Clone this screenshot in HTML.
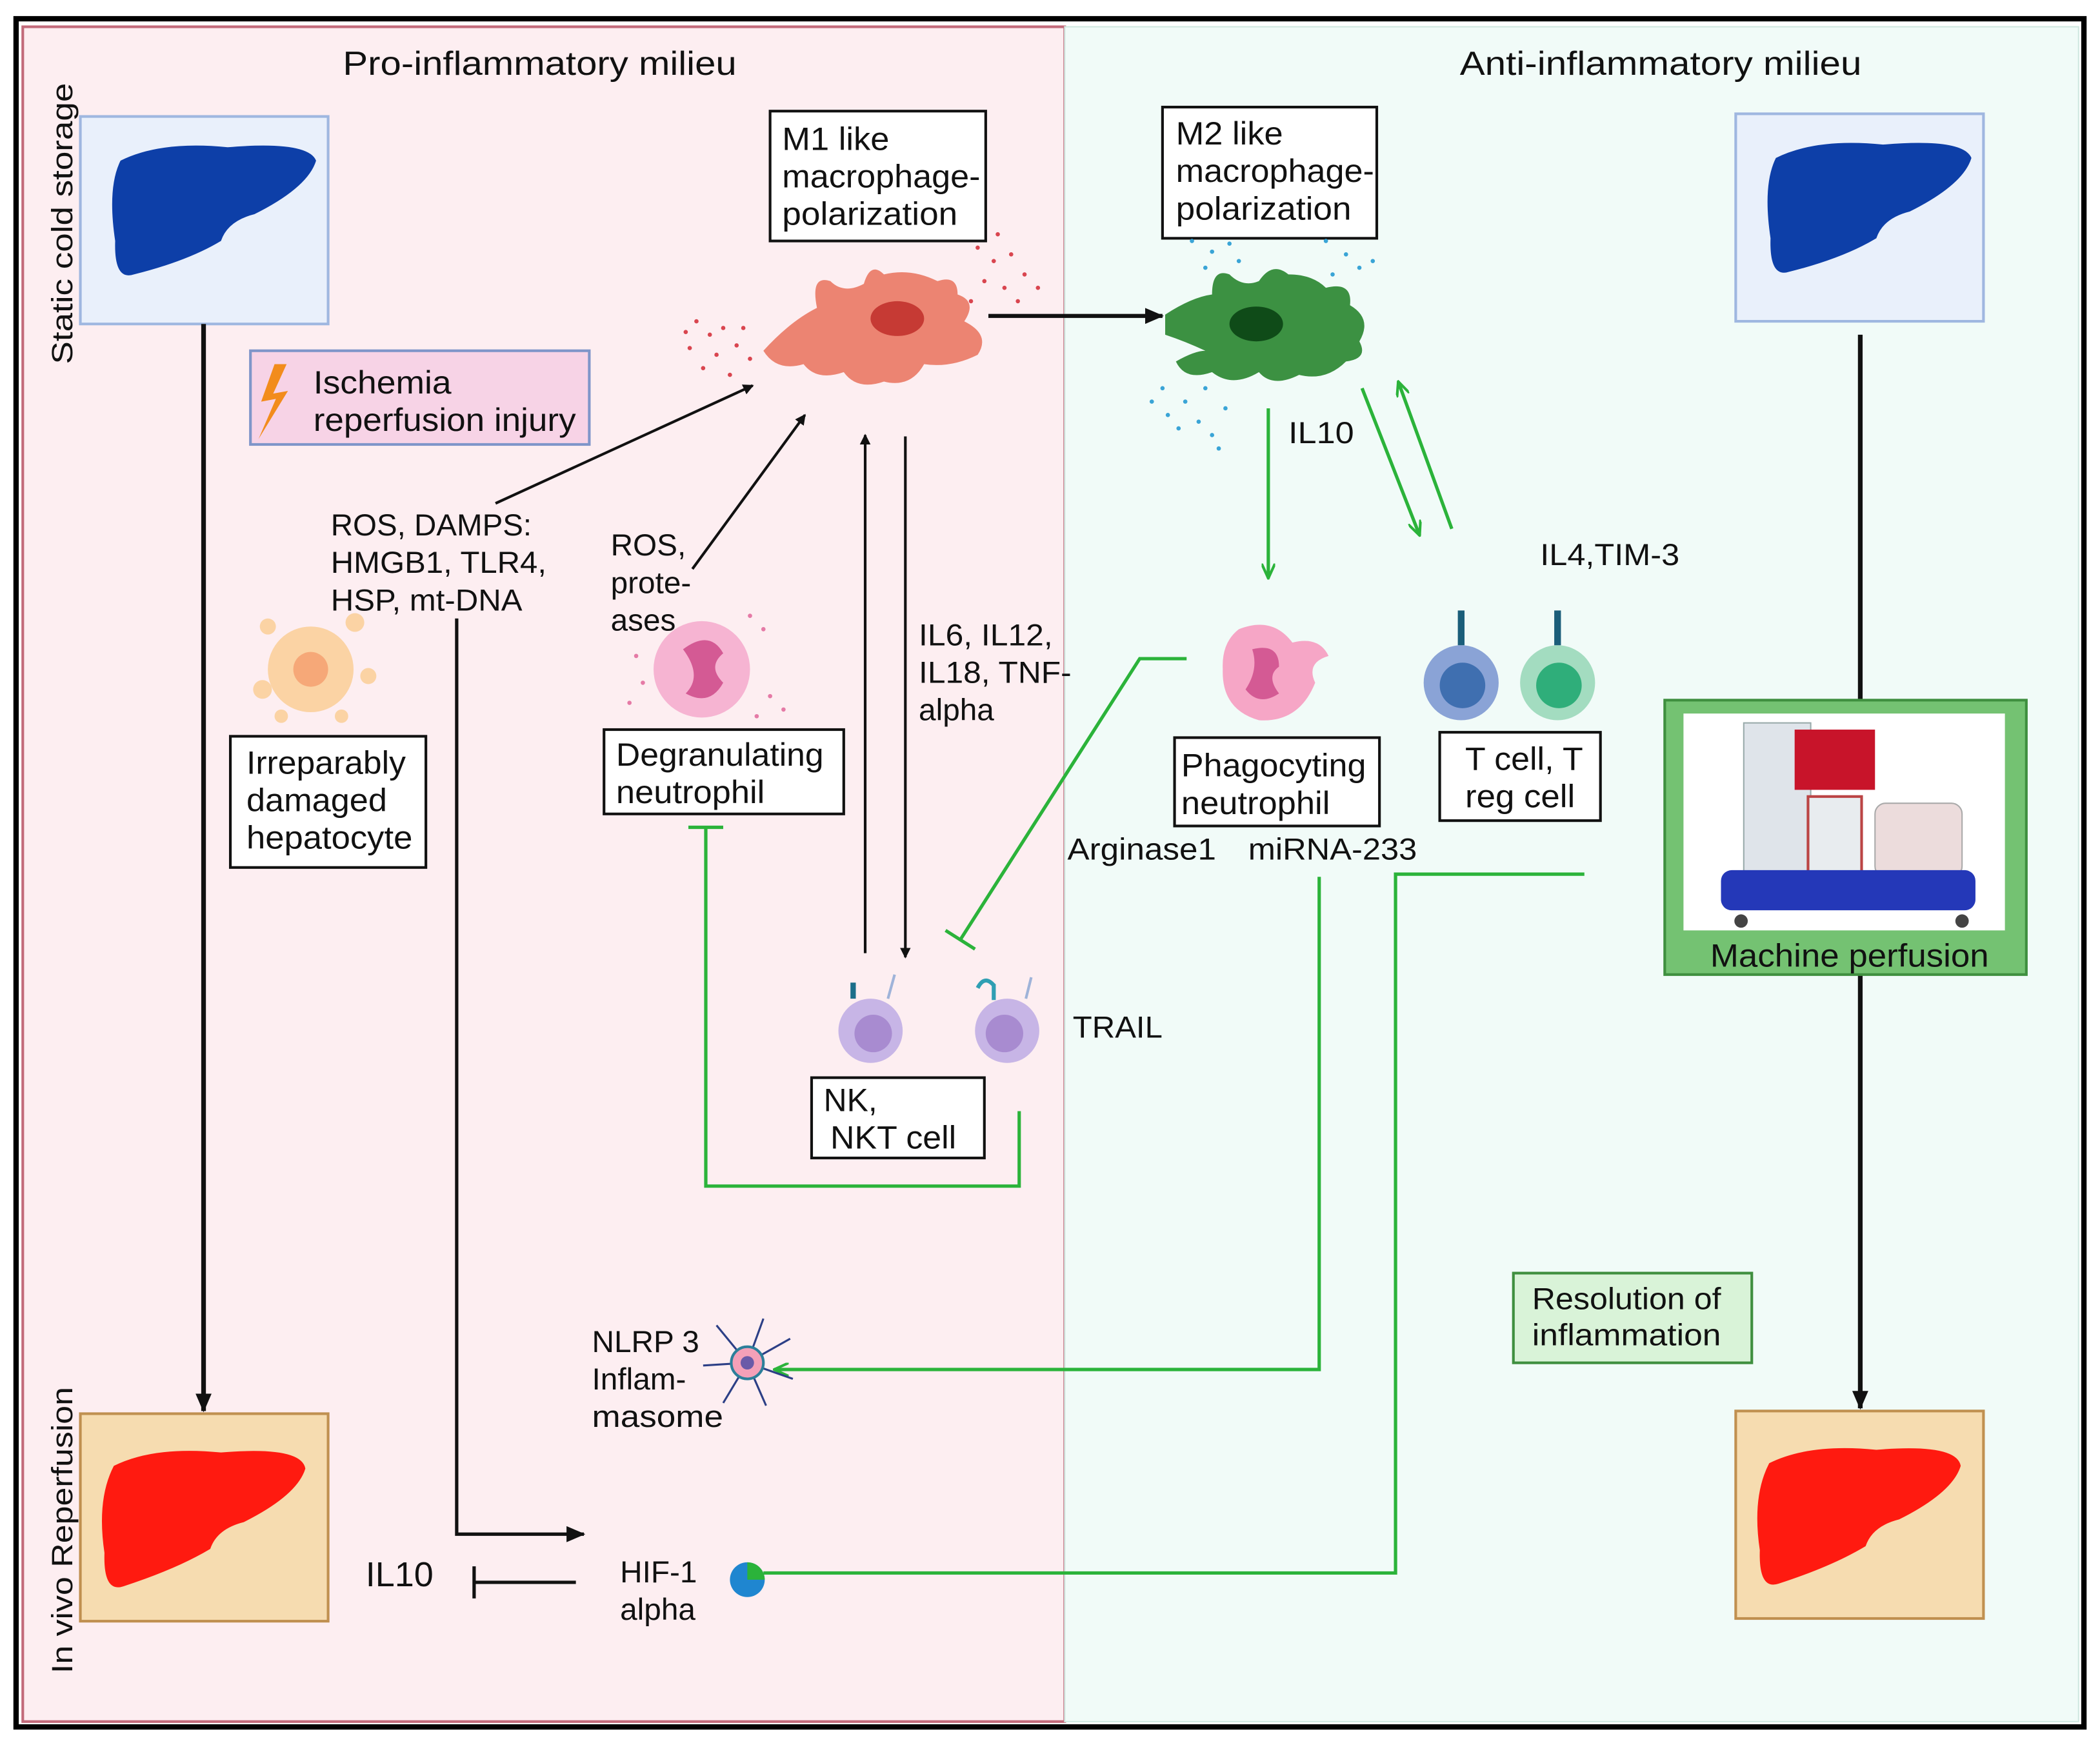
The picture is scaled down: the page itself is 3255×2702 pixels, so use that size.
<!DOCTYPE html>
<html><head><meta charset="utf-8"><style>
html,body{margin:0;padding:0;background:#fff}
svg{display:block}
text{font-family:"Liberation Sans",sans-serif;fill:#111}
</style></head><body>
<svg width="3255" height="2702" viewBox="0 0 1568 1302" preserveAspectRatio="none" xmlns="http://www.w3.org/2000/svg">
<defs>
<marker id="ab" markerWidth="8" markerHeight="8" refX="7" refY="4" orient="auto" markerUnits="userSpaceOnUse"><path d="M0,0 L8,4 L0,8 z" fill="#111"/></marker>
<marker id="ab2" markerWidth="14" markerHeight="12" refX="13" refY="6" orient="auto" markerUnits="userSpaceOnUse"><path d="M0,0 L14,6 L0,12 z" fill="#111"/></marker>
<marker id="ag" markerWidth="12" markerHeight="10" refX="11" refY="5" orient="auto" markerUnits="userSpaceOnUse"><path d="M0,0 L11,5 L0,10" fill="none" stroke="#2bb33a" stroke-width="2"/></marker>
</defs>
<rect x="0" y="0" width="1568" height="1302" fill="#fff"/>
<rect x="12" y="14" width="1544" height="1276" fill="none" stroke="#000" stroke-width="4"/>
<rect x="17" y="20" width="778" height="1266" fill="#fdeef1" stroke="#c26a7a" stroke-width="2"/>
<rect x="795" y="20" width="757" height="1266" fill="#f1fbf8" stroke="#cfe8e0" stroke-width="1"/>

<text x="256" y="56" font-size="25" textLength="294" lengthAdjust="spacingAndGlyphs">Pro-inflammatory milieu</text>
<text x="1090" y="56" font-size="25" textLength="300" lengthAdjust="spacingAndGlyphs">Anti-inflammatory milieu</text>
<text transform="translate(54,272) rotate(-90)" font-size="22" textLength="210" lengthAdjust="spacingAndGlyphs">Static cold storage</text>
<text transform="translate(54,1250) rotate(-90)" font-size="22" textLength="214" lengthAdjust="spacingAndGlyphs">In vivo Reperfusion</text>

<rect x="60" y="87" width="185" height="155" fill="#e9f0fb" stroke="#9fb7e0" stroke-width="2"/>
<path d="M90,120 Q120,105 170,110 Q230,105 236,120 Q230,140 190,160 Q170,165 165,180 Q140,195 100,205 Q85,210 86,180 Q80,140 90,120z" fill="#0d3fa8"/>
<rect x="1296" y="85" width="185" height="155" fill="#e9f0fb" stroke="#9fb7e0" stroke-width="2"/>
<path d="M1326,118 Q1356,103 1406,108 Q1466,103 1472,118 Q1466,138 1426,158 Q1406,163 1401,178 Q1376,193 1336,203 Q1321,208 1322,178 Q1316,138 1326,118z" fill="#0d3fa8"/>
<rect x="60" y="1056" width="185" height="155" fill="#f6dcb0" stroke="#c09050" stroke-width="2"/>
<path d="M85,1095 Q115,1080 165,1085 Q225,1080 228,1097 Q222,1117 182,1137 Q162,1142 157,1157 Q132,1172 92,1185 Q77,1190 78,1160 Q72,1120 85,1095z" fill="#ff1a10"/>
<rect x="1296" y="1054" width="185" height="155" fill="#f6dcb0" stroke="#c09050" stroke-width="2"/>
<path d="M1321,1093 Q1351,1078 1401,1083 Q1461,1078 1464,1095 Q1458,1115 1418,1135 Q1398,1140 1393,1155 Q1368,1170 1328,1183 Q1313,1188 1314,1158 Q1308,1118 1321,1093z" fill="#ff1a10"/>

<line x1="152" y1="242" x2="152" y2="1054" stroke="#111" stroke-width="3.5" marker-end="url(#ab2)"/>
<line x1="1389" y1="250" x2="1389" y2="1052" stroke="#111" stroke-width="3.5" marker-end="url(#ab2)"/>

<rect x="187" y="262" width="253" height="70" fill="#f7d3e6" stroke="#7f95c9" stroke-width="2"/>
<path d="M205,272 L195,300 L206,298 L193,328 L215,292 L204,294 L214,272z" fill="#f28c1c"/>
<text x="234" y="294" font-size="24" textLength="103" lengthAdjust="spacingAndGlyphs">Ischemia</text>
<text x="234" y="322" font-size="24" textLength="196" lengthAdjust="spacingAndGlyphs">reperfusion injury</text>

<rect x="575" y="83" width="161" height="97" fill="#fff" stroke="#111" stroke-width="2"/>
<text x="584" y="112" font-size="24" textLength="80" lengthAdjust="spacingAndGlyphs">M1 like</text>
<text x="584" y="140" font-size="24" textLength="148" lengthAdjust="spacingAndGlyphs">macrophage-</text>
<text x="584" y="168" font-size="24" textLength="131" lengthAdjust="spacingAndGlyphs">polarization</text>
<path d="M570,262 Q590,240 610,230 Q605,205 620,210 Q630,220 645,212 Q650,195 660,205 Q680,200 700,210 Q715,205 715,220 Q730,225 720,240 Q740,250 730,265 Q710,275 690,272 Q680,290 660,285 Q640,292 630,278 Q610,285 600,272 Q580,278 570,262z" fill="#ec8472"/>
<ellipse cx="670" cy="238" rx="20" ry="13" fill="#c63a34"/>
<g fill="#d9454f">
<circle cx="520" cy="240" r="1.6"/><circle cx="530" cy="250" r="1.6"/><circle cx="540" cy="245" r="1.6"/><circle cx="515" cy="260" r="1.6"/><circle cx="535" cy="265" r="1.6"/><circle cx="550" cy="258" r="1.6"/><circle cx="525" cy="275" r="1.6"/><circle cx="545" cy="280" r="1.6"/><circle cx="560" cy="268" r="1.6"/><circle cx="512" cy="248" r="1.6"/><circle cx="555" cy="245" r="1.6"/>
<circle cx="730" cy="185" r="1.6"/><circle cx="742" cy="195" r="1.6"/><circle cx="755" cy="190" r="1.6"/><circle cx="765" cy="205" r="1.6"/><circle cx="735" cy="210" r="1.6"/><circle cx="750" cy="215" r="1.6"/><circle cx="775" cy="215" r="1.6"/><circle cx="725" cy="225" r="1.6"/><circle cx="745" cy="175" r="1.6"/><circle cx="760" cy="225" r="1.6"/>
</g>

<rect x="868" y="80" width="160" height="98" fill="#fff" stroke="#111" stroke-width="2"/>
<text x="878" y="108" font-size="24" textLength="80" lengthAdjust="spacingAndGlyphs">M2 like</text>
<text x="878" y="136" font-size="24" textLength="148" lengthAdjust="spacingAndGlyphs">macrophage-</text>
<text x="878" y="164" font-size="24" textLength="131" lengthAdjust="spacingAndGlyphs">polarization</text>
<path d="M870,235 Q890,222 905,220 Q905,200 918,205 Q928,215 940,210 Q950,195 962,205 Q980,205 990,215 Q1010,210 1008,228 Q1025,238 1015,255 Q1022,268 1005,270 Q990,285 970,280 Q950,290 940,278 Q920,290 905,278 Q885,285 878,270 Q892,262 900,262 Q885,255 870,250z" fill="#3c9142"/>
<ellipse cx="938" cy="242" rx="20" ry="13" fill="#0f4b18"/>
<g fill="#3aa4d6">
<circle cx="890" cy="180" r="1.6"/><circle cx="905" cy="188" r="1.6"/><circle cx="918" cy="182" r="1.6"/><circle cx="925" cy="195" r="1.6"/><circle cx="900" cy="200" r="1.6"/><circle cx="990" cy="180" r="1.6"/><circle cx="1005" cy="190" r="1.6"/><circle cx="1015" cy="200" r="1.6"/><circle cx="995" cy="205" r="1.6"/><circle cx="1025" cy="195" r="1.6"/>
<circle cx="860" cy="300" r="1.6"/><circle cx="872" cy="310" r="1.6"/><circle cx="885" cy="300" r="1.6"/><circle cx="895" cy="315" r="1.6"/><circle cx="905" cy="325" r="1.6"/><circle cx="880" cy="320" r="1.6"/><circle cx="915" cy="305" r="1.6"/><circle cx="900" cy="290" r="1.6"/><circle cx="910" cy="335" r="1.6"/><circle cx="868" cy="290" r="1.6"/>
</g>
<line x1="738" y1="236" x2="868" y2="236" stroke="#111" stroke-width="3" marker-end="url(#ab2)"/>

<text x="247" y="400" font-size="23" textLength="150" lengthAdjust="spacingAndGlyphs">ROS, DAMPS:</text>
<text x="247" y="428" font-size="23" textLength="161" lengthAdjust="spacingAndGlyphs">HMGB1, TLR4,</text>
<text x="247" y="456" font-size="23" textLength="143" lengthAdjust="spacingAndGlyphs">HSP, mt-DNA</text>
<line x1="370" y1="376" x2="562" y2="288" stroke="#111" stroke-width="2" marker-end="url(#ab)"/>
<text x="456" y="415" font-size="23">ROS,</text>
<text x="456" y="443" font-size="23">prote-</text>
<text x="456" y="471" font-size="23">ases</text>
<line x1="517" y1="425" x2="601" y2="310" stroke="#111" stroke-width="2" marker-end="url(#ab)"/>

<circle cx="232" cy="500" r="32" fill="#fbd3a4"/>
<circle cx="232" cy="500" r="13" fill="#f6a878"/>
<g fill="#fbd3a4"><circle cx="200" cy="468" r="6"/><circle cx="265" cy="465" r="7"/><circle cx="275" cy="505" r="6"/><circle cx="196" cy="515" r="7"/><circle cx="255" cy="535" r="5"/><circle cx="210" cy="535" r="5"/></g>
<rect x="172" y="550" width="146" height="98" fill="#fff" stroke="#111" stroke-width="2"/>
<text x="184" y="578" font-size="24" textLength="119" lengthAdjust="spacingAndGlyphs">Irreparably</text>
<text x="184" y="606" font-size="24" textLength="105" lengthAdjust="spacingAndGlyphs">damaged</text>
<text x="184" y="634" font-size="24" textLength="124" lengthAdjust="spacingAndGlyphs">hepatocyte</text>

<circle cx="524" cy="500" r="36" fill="#f6b4d2"/>
<path d="M510,485 Q530,470 540,488 Q528,498 540,510 Q530,528 512,518 Q525,505 510,485z" fill="#d45a94"/>
<g fill="#e57aa6"><circle cx="475" cy="490" r="1.6"/><circle cx="480" cy="510" r="1.6"/><circle cx="570" cy="470" r="1.6"/><circle cx="575" cy="520" r="1.6"/><circle cx="585" cy="530" r="1.6"/><circle cx="565" cy="535" r="1.6"/><circle cx="470" cy="525" r="1.6"/><circle cx="560" cy="460" r="1.6"/></g>
<rect x="451" y="545" width="179" height="63" fill="#fff" stroke="#111" stroke-width="2"/>
<text x="460" y="572" font-size="24" textLength="155" lengthAdjust="spacingAndGlyphs">Degranulating</text>
<text x="460" y="600" font-size="24" textLength="111" lengthAdjust="spacingAndGlyphs">neutrophil</text>

<line x1="646" y1="712" x2="646" y2="325" stroke="#111" stroke-width="2" marker-end="url(#ab)"/>
<line x1="676" y1="326" x2="676" y2="715" stroke="#111" stroke-width="2" marker-end="url(#ab)"/>
<text x="686" y="482" font-size="23" textLength="100" lengthAdjust="spacingAndGlyphs">IL6, IL12,</text>
<text x="686" y="510" font-size="23" textLength="114" lengthAdjust="spacingAndGlyphs">IL18, TNF-</text>
<text x="686" y="538" font-size="23">alpha</text>

<circle cx="650" cy="770" r="24" fill="#c7b5e6"/><circle cx="652" cy="772" r="14" fill="#a88bd0"/>
<line x1="637" y1="746" x2="637" y2="734" stroke="#1b6e8a" stroke-width="4"/>
<line x1="663" y1="746" x2="668" y2="728" stroke="#9fb3d9" stroke-width="2"/>
<circle cx="752" cy="770" r="24" fill="#c7b5e6"/><circle cx="750" cy="772" r="14" fill="#a88bd0"/>
<path d="M730,738 q5,-10 12,-2 M742,735 l0,12" stroke="#2f9fb3" stroke-width="3" fill="none"/>
<line x1="766" y1="746" x2="770" y2="730" stroke="#9fb3d9" stroke-width="2"/>
<rect x="606" y="805" width="129" height="60" fill="#fff" stroke="#111" stroke-width="2"/>
<text x="615" y="830" font-size="24">NK,</text>
<text x="620" y="858" font-size="24" textLength="94" lengthAdjust="spacingAndGlyphs">NKT cell</text>
<text x="801" y="775" font-size="23" textLength="67" lengthAdjust="spacingAndGlyphs">TRAIL</text>

<polyline points="761,830 761,886 527,886 527,618" fill="none" stroke="#2bb33a" stroke-width="2.5"/>
<line x1="514" y1="618" x2="540" y2="618" stroke="#2bb33a" stroke-width="2.5"/>
<polyline points="886,492 851,492 717,702" fill="none" stroke="#2bb33a" stroke-width="2.5"/>
<line x1="706" y1="695" x2="728" y2="709" stroke="#2bb33a" stroke-width="2.5"/>

<text x="962" y="331" font-size="23" textLength="49" lengthAdjust="spacingAndGlyphs">IL10</text>
<line x1="947" y1="305" x2="947" y2="432" stroke="#2bb33a" stroke-width="2.5" marker-end="url(#ag)"/>
<line x1="1017" y1="290" x2="1060" y2="400" stroke="#2bb33a" stroke-width="2.5" marker-end="url(#ag)"/>
<line x1="1084" y1="395" x2="1044" y2="285" stroke="#2bb33a" stroke-width="2.5" marker-end="url(#ag)"/>
<text x="1150" y="422" font-size="23" textLength="104" lengthAdjust="spacingAndGlyphs">IL4,TIM-3</text>

<path d="M925,470 Q950,460 965,480 Q985,475 992,490 Q975,495 982,510 Q970,540 940,538 Q912,530 913,500 Q912,480 925,470z" fill="#f6a6c6"/>
<path d="M935,485 Q955,480 955,498 Q945,505 955,518 Q940,528 930,515 Q940,500 935,485z" fill="#d45a94"/>
<rect x="877" y="551" width="153" height="66" fill="#fff" stroke="#111" stroke-width="2"/>
<text x="882" y="580" font-size="24" textLength="138" lengthAdjust="spacingAndGlyphs">Phagocyting</text>
<text x="882" y="608" font-size="24" textLength="111" lengthAdjust="spacingAndGlyphs">neutrophil</text>
<text x="797" y="642" font-size="23" textLength="111" lengthAdjust="spacingAndGlyphs">Arginase1</text>
<text x="932" y="642" font-size="23" textLength="126" lengthAdjust="spacingAndGlyphs">miRNA-233</text>

<circle cx="1091" cy="510" r="28" fill="#8aa3d6"/><circle cx="1092" cy="512" r="17" fill="#3f6fb0"/>
<line x1="1091" y1="482" x2="1091" y2="456" stroke="#1b5e7a" stroke-width="5"/>
<circle cx="1163" cy="510" r="28" fill="#a3dcc0"/><circle cx="1164" cy="512" r="17" fill="#2fae7a"/>
<line x1="1163" y1="482" x2="1163" y2="456" stroke="#1b5e7a" stroke-width="5"/>
<rect x="1075" y="547" width="120" height="66" fill="#fff" stroke="#111" stroke-width="2"/>
<text x="1094" y="575" font-size="24" textLength="88" lengthAdjust="spacingAndGlyphs">T cell, T</text>
<text x="1094" y="603" font-size="24" textLength="82" lengthAdjust="spacingAndGlyphs">reg cell</text>

<rect x="1243" y="523" width="270" height="205" fill="#74c272" stroke="#3f8f3f" stroke-width="2"/>
<rect x="1257" y="533" width="240" height="162" fill="#fff"/>
<rect x="1302" y="540" width="50" height="130" fill="#dfe4ea" stroke="#9aa" stroke-width="1"/>
<rect x="1340" y="545" width="60" height="45" fill="#c8142a"/>
<rect x="1350" y="595" width="40" height="60" fill="#e8ecef" stroke="#b44" stroke-width="2"/>
<rect x="1400" y="600" width="65" height="55" rx="8" fill="#ecdcdc" stroke="#aaa"/>
<rect x="1285" y="650" width="190" height="30" rx="8" fill="#2438b8"/>
<circle cx="1300" cy="688" r="5" fill="#444"/><circle cx="1465" cy="688" r="5" fill="#444"/>
<text x="1277" y="722" font-size="24" textLength="208" lengthAdjust="spacingAndGlyphs">Machine perfusion</text>

<rect x="1130" y="951" width="178" height="67" fill="#d9f3d8" stroke="#3f8f3f" stroke-width="2"/>
<text x="1144" y="978" font-size="23" textLength="141" lengthAdjust="spacingAndGlyphs">Resolution of</text>
<text x="1144" y="1005" font-size="23" textLength="141" lengthAdjust="spacingAndGlyphs">inflammation</text>

<polyline points="985,655 985,1023 578,1023" fill="none" stroke="#2bb33a" stroke-width="2.5" marker-end="url(#ag)"/>
<polyline points="1183,653 1042,653 1042,1175 570,1175" fill="none" stroke="#2bb33a" stroke-width="2.5"/>

<g stroke="#2c3f86" stroke-width="1.5">
<line x1="558" y1="1018" x2="535" y2="990"/><line x1="558" y1="1018" x2="570" y2="985"/><line x1="558" y1="1018" x2="590" y2="1000"/><line x1="558" y1="1018" x2="592" y2="1030"/><line x1="558" y1="1018" x2="572" y2="1050"/><line x1="558" y1="1018" x2="540" y2="1048"/><line x1="558" y1="1018" x2="525" y2="1020"/>
</g>
<circle cx="558" cy="1018" r="12" fill="#f4a0b8" stroke="#2c7f9a" stroke-width="2"/>
<circle cx="558" cy="1018" r="5" fill="#6a5aa8"/>
<text x="442" y="1010" font-size="23">NLRP 3</text>
<text x="442" y="1038" font-size="23">Inflam-</text>
<text x="442" y="1066" font-size="23" textLength="98" lengthAdjust="spacingAndGlyphs">masome</text>

<circle cx="558" cy="1180" r="13" fill="#1f86d0"/>
<path d="M558,1167 a13,13 0 0 1 13,13 l-13,0z" fill="#2bb33a"/>
<text x="463" y="1182" font-size="23">HIF-1</text>
<text x="463" y="1210" font-size="23">alpha</text>
<text x="273" y="1185" font-size="26">IL10</text>
<line x1="430" y1="1182" x2="354" y2="1182" stroke="#111" stroke-width="2.5"/>
<line x1="354" y1="1170" x2="354" y2="1194" stroke="#111" stroke-width="2.5"/>
<polyline points="341,462 341,1146 436,1146" fill="none" stroke="#111" stroke-width="2.5" marker-end="url(#ab2)"/>
</svg>
</body></html>
